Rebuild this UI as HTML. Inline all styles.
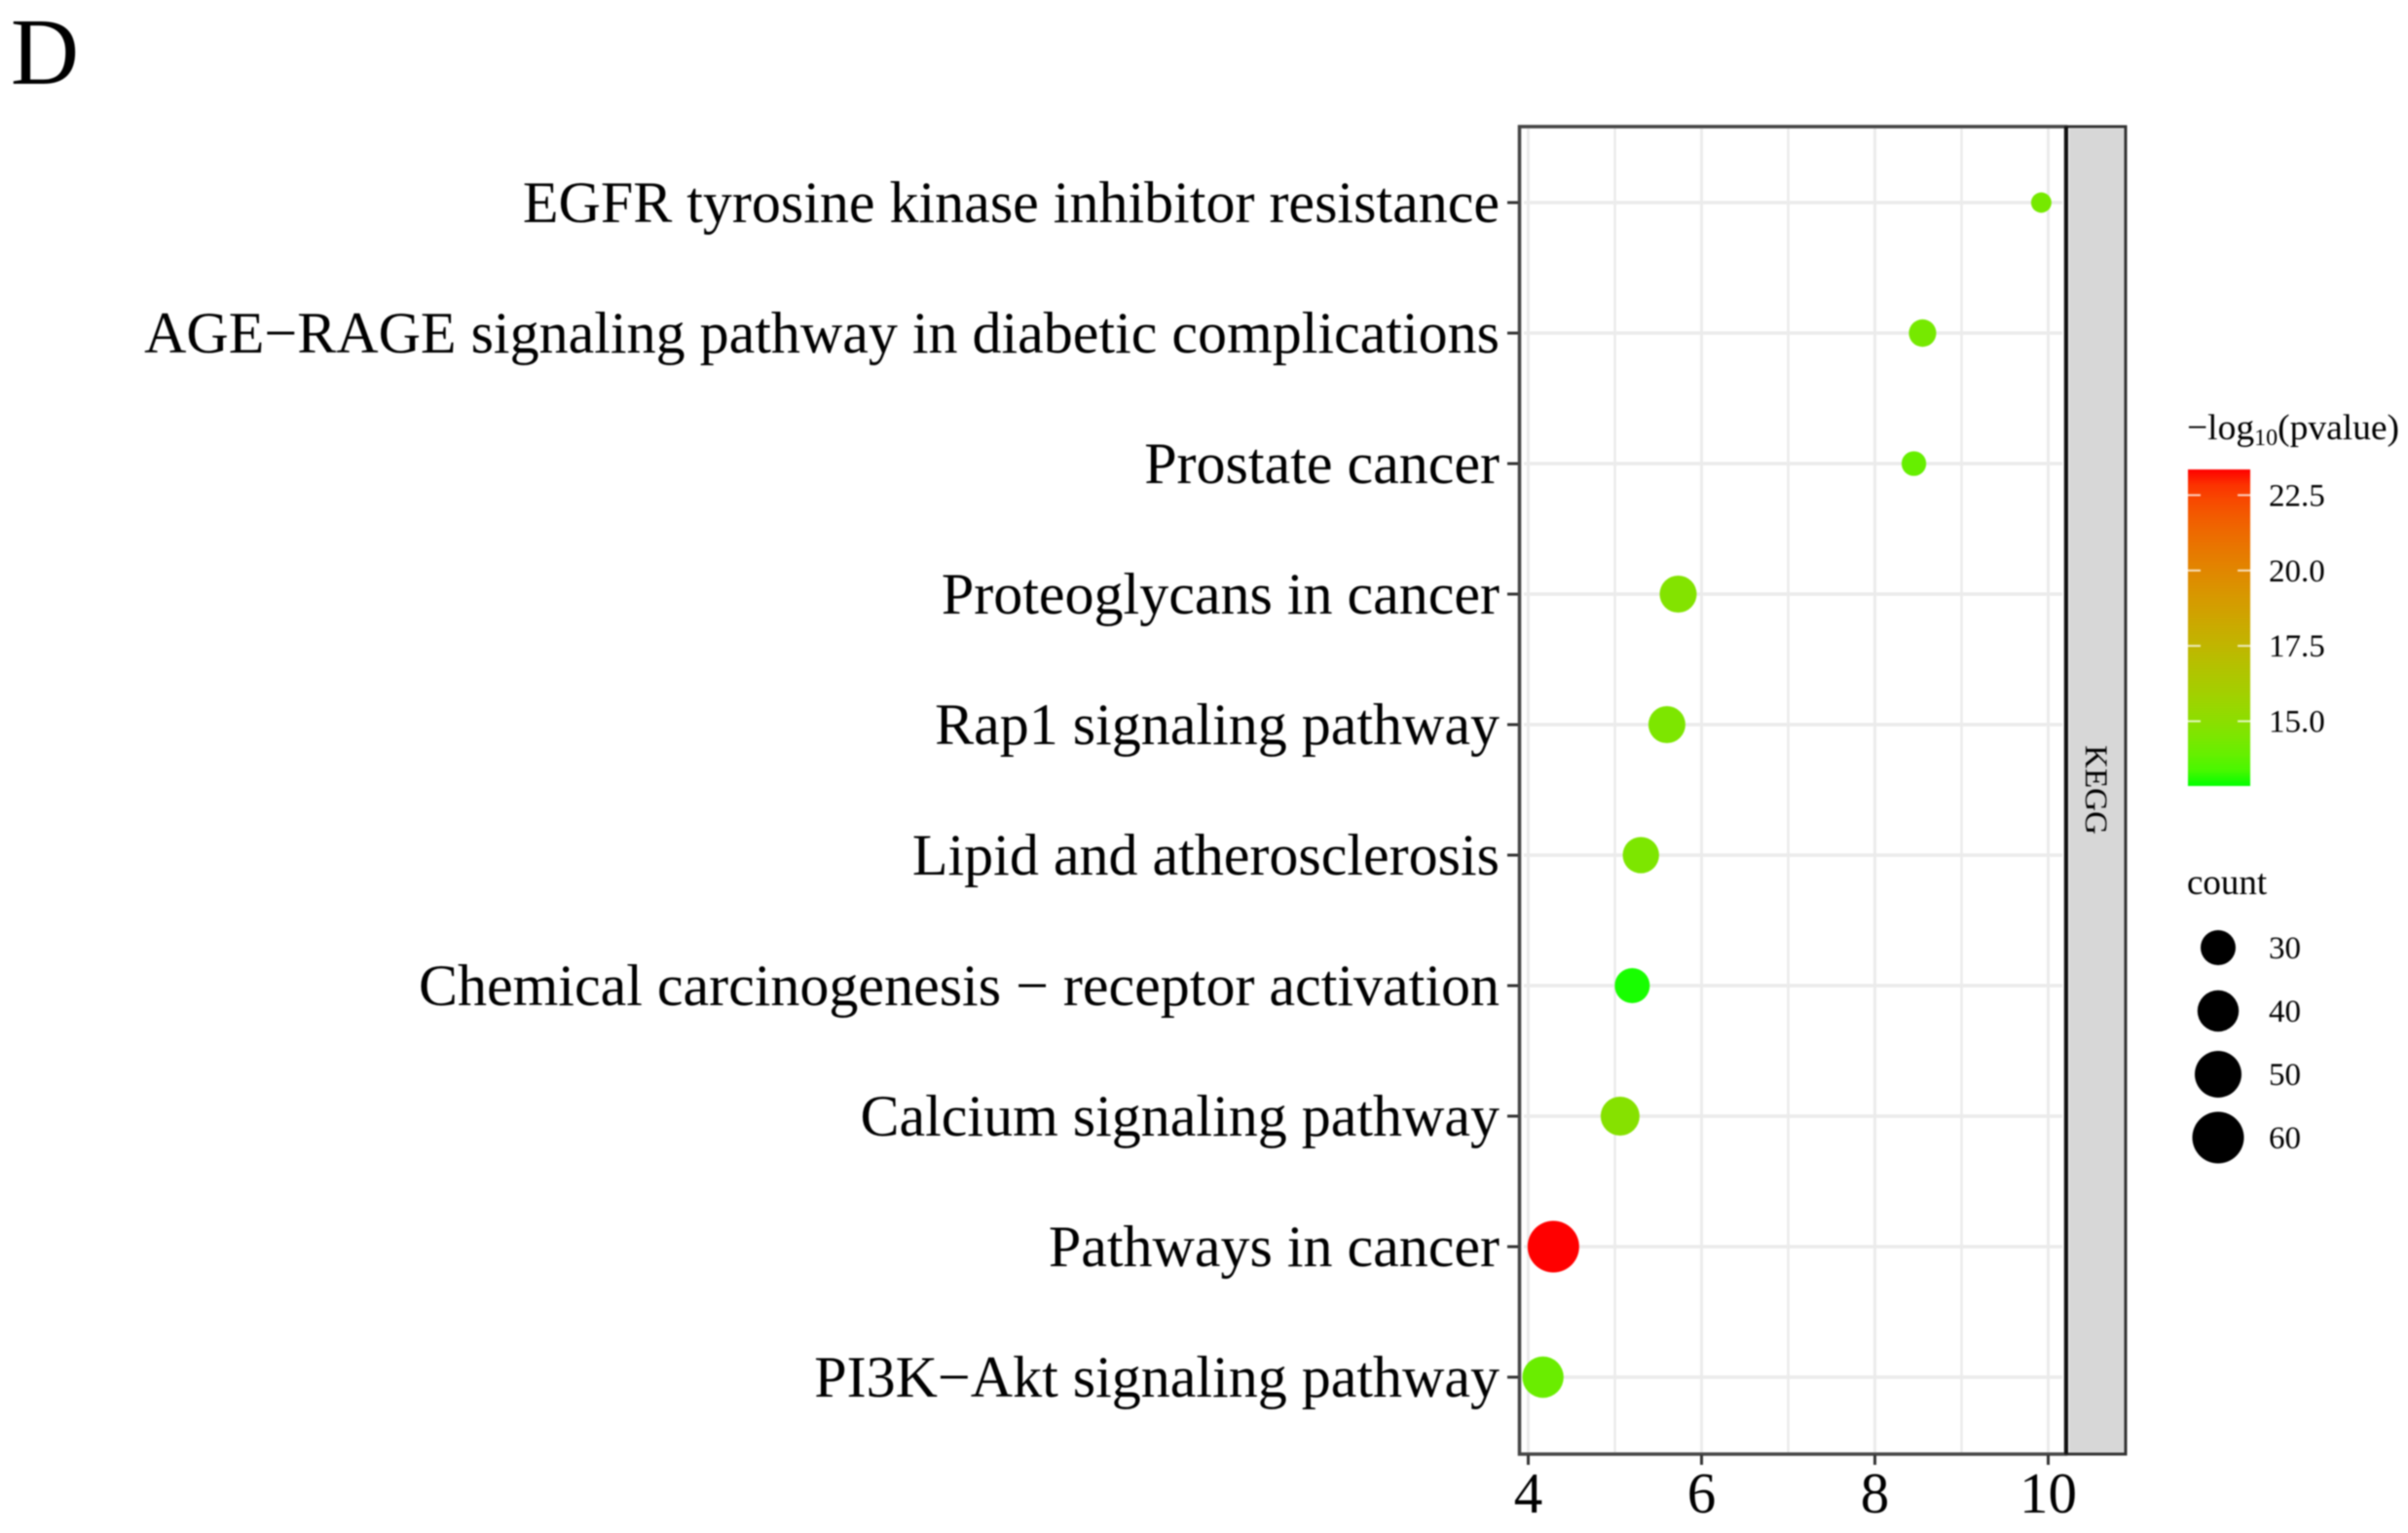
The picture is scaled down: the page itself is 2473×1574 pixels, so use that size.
<!DOCTYPE html>
<html lang="en">
<head>
<meta charset="utf-8">
<title>KEGG pathway enrichment dot plot</title>
<style>
html,body{margin:0;padding:0;background:#fff;}
#chart{display:block;width:2473px;height:1574px;filter:blur(0.8px);}
text{font-family:"Liberation Serif",serif;fill:#000;}
</style>
</head>
<body>
<svg id="chart" xmlns="http://www.w3.org/2000/svg" width="2473" height="1574" viewBox="0 0 2473 1574">
  <rect width="2473" height="1574" fill="#fff"/>
  <text x="11" y="86" font-size="97">D</text>
  <defs>
    <linearGradient id="cbar" x1="0" y1="1" x2="0" y2="0"></linearGradient>
  </defs>
  <g id="grid"></g>
  <g id="points"></g>
  <rect x="1560.5" y="130" width="561" height="1363" fill="none" stroke="#444" stroke-width="3.5"/>
  <rect x="2125" y="132" width="57" height="1360" fill="#d7d7d7"/>
  <rect x="2122" y="130" width="61" height="1363" fill="none" stroke="#333" stroke-width="3"/>
  <line x1="2122" y1="130" x2="2122" y2="1493" stroke="#111" stroke-width="4"/>
  <text transform="translate(2142,811) rotate(90)" text-anchor="middle" font-size="33">KEGG</text>
  <g id="yaxis"></g>
  <g id="xaxis"></g>
  <text x="2246" y="451" font-size="37.5">−log<tspan font-size="24" dy="6">10</tspan><tspan dy="-6">(pvalue)</tspan></text>
  <rect id="colorbar" x="2247" y="482" width="64" height="325" fill="url(#cbar)"/>
  <g id="colorticks"></g>
  <text x="2246" y="918" font-size="37">count</text>
  <g id="sizelegend"></g>
</svg>
<script>
const categories = [
  "EGFR tyrosine kinase inhibitor resistance",
  "AGE\u2212RAGE signaling pathway in diabetic complications",
  "Prostate cancer",
  "Proteoglycans in cancer",
  "Rap1 signaling pathway",
  "Lipid and atherosclerosis",
  "Chemical carcinogenesis \u2212 receptor activation",
  "Calcium signaling pathway",
  "Pathways in cancer",
  "PI3K\u2212Akt signaling pathway"
];
const richFactor = [9.92, 8.55, 8.45, 5.73, 5.60, 5.30, 5.20, 5.06, 4.29, 4.17];
const counts = [13, 20, 17, 33, 33, 32, 30, 36, 60, 40];
const logP = [14.3, 14.3, 13.9, 14.7, 14.5, 14.5, 12.9, 14.8, 23.37, 14.0];
const xTicks = [4, 6, 8, 10];
const xMinorTicks = [5, 7, 9];
const colorTicks = [22.5, 20.0, 17.5, 15.0];
const colorDomain = [12.83, 23.37];
const sizeLegendCounts = [30, 40, 50, 60];

const NS = "http://www.w3.org/2000/svg";
function mk(parent, tag, attrs, txt) {
  const el = document.createElementNS(NS, tag);
  for (const k in attrs) el.setAttribute(k, attrs[k]);
  if (txt !== undefined) el.textContent = txt;
  document.getElementById(parent).appendChild(el);
  return el;
}
function xScale(v) { return 1569.5 + (v - 4) * 89; }
function yScale(i) { return 208 + i * 134; }
function cbarY(v) { return 740.5 - (v - 15) * 30.95; }
function sizeScale(c) { return Math.sqrt(Math.max(1296 + 50.4 * (c - 30), 100)); }

function toLab(rgb) {
  const f = rgb.map(c => { c /= 255; return c > 0.04045 ? Math.pow((c + 0.055) / 1.055, 2.4) : c / 12.92; });
  const X = (0.4124 * f[0] + 0.3576 * f[1] + 0.1805 * f[2]) / 0.95047;
  const Y = 0.2126 * f[0] + 0.7152 * f[1] + 0.0722 * f[2];
  const Z = (0.0193 * f[0] + 0.1192 * f[1] + 0.9505 * f[2]) / 1.08883;
  const g = t => t > 0.008856 ? Math.cbrt(t) : 7.787 * t + 16 / 116;
  return [116 * g(Y) - 16, 500 * (g(X) - g(Y)), 200 * (g(Y) - g(Z))];
}
function fromLab(lab) {
  const fy = (lab[0] + 16) / 116, fx = fy + lab[1] / 500, fz = fy - lab[2] / 200;
  const h = t => t * t * t > 0.008856 ? t * t * t : (t - 16 / 116) / 7.787;
  const X = h(fx) * 0.95047, Y = h(fy), Z = h(fz) * 1.08883;
  const l = [3.2406 * X - 1.5372 * Y - 0.4986 * Z, -0.9689 * X + 1.8758 * Y + 0.0415 * Z, 0.0557 * X - 0.204 * Y + 1.057 * Z];
  const out = l.map(c => {
    c = Math.max(0, Math.min(1, c));
    c = c > 0.0031308 ? 1.055 * Math.pow(c, 1 / 2.4) - 0.055 : 12.92 * c;
    return Math.round(c * 255);
  });
  return "rgb(" + out.join(",") + ")";
}
const labLow = toLab([0, 255, 0]);
const labHigh = toLab([255, 0, 0]);
function colorAt(t) {
  t = Math.max(0, Math.min(1, t));
  return fromLab(labLow.map((a, i) => a + (labHigh[i] - a) * t));
}
function colorScale(v) { return colorAt((v - colorDomain[0]) / (colorDomain[1] - colorDomain[0])); }

/* colour bar gradient */
for (let s = 0; s <= 20; s++) {
  const st = document.createElementNS(NS, "stop");
  st.setAttribute("offset", (s * 5) + "%");
  st.setAttribute("stop-color", colorAt(s / 20));
  document.getElementById("cbar").appendChild(st);
}

/* vertical grid lines */
xMinorTicks.forEach(v => {
  const l = mk("grid", "line", { x1: xScale(v), x2: xScale(v), y1: 132, y2: 1491, stroke: "#ebebeb", "stroke-width": 2.5 });
  
  
});
xTicks.forEach(v => {
  const l = mk("grid", "line", { x1: xScale(v), x2: xScale(v), y1: 132, y2: 1491, stroke: "#ebebeb", "stroke-width": 3 });
  
  
});

/* rows */
categories.forEach((name, i) => {
  const y = yScale(i);
  const g = mk("grid", "line", { x1: 1565, x2: 2118, y1: y, y2: y, stroke: "#ebebeb", "stroke-width": 3.5 });
  
  

  const t = mk("yaxis", "line", { x1: 1548, x2: 1559, y1: y, y2: y, stroke: "#333", "stroke-width": 3 });
  
  

  const lab = mk("yaxis", "text", { x: 1540, y: y + 20, "text-anchor": "end", "font-size": 60 }, name);
  
  

  const c = mk("points", "circle", { cx: xScale(richFactor[i]), cy: y, r: sizeScale(counts[i]) / 2, fill: colorScale(logP[i]) });
  
  
});

/* x axis */
xTicks.forEach(v => {
  const t = mk("xaxis", "line", { x1: xScale(v), x2: xScale(v), y1: 1494, y2: 1504, stroke: "#333", "stroke-width": 3 });
  
  

  const lab = mk("xaxis", "text", { x: xScale(v), y: 1553, "text-anchor": "middle", "font-size": 59 }, String(v));
  
  
});

/* colour legend ticks */
colorTicks.forEach(v => {
  const y = cbarY(v);
  const a = mk("colorticks", "line", { x1: 2247, x2: 2260, y1: y, y2: y, stroke: "#fff", "stroke-opacity": 0.75, "stroke-width": 2 });
  
  

  const b = mk("colorticks", "line", { x1: 2298, x2: 2311, y1: y, y2: y, stroke: "#fff", "stroke-opacity": 0.75, "stroke-width": 2 });
  
  

  const t = mk("colorticks", "text", { x: 2330, y: y + 11, "font-size": 33 }, v.toFixed(1));
  
  
});

/* size legend */
sizeLegendCounts.forEach((c, i) => {
  const y = 973 + i * 65;
  const dot = mk("sizelegend", "circle", { cx: 2278, cy: y, r: sizeScale(c) / 2, fill: "#000" });
  
  

  const t = mk("sizelegend", "text", { x: 2330, y: y + 11, "font-size": 33 }, String(c));
  
  
});
</script>
</body>
</html>
